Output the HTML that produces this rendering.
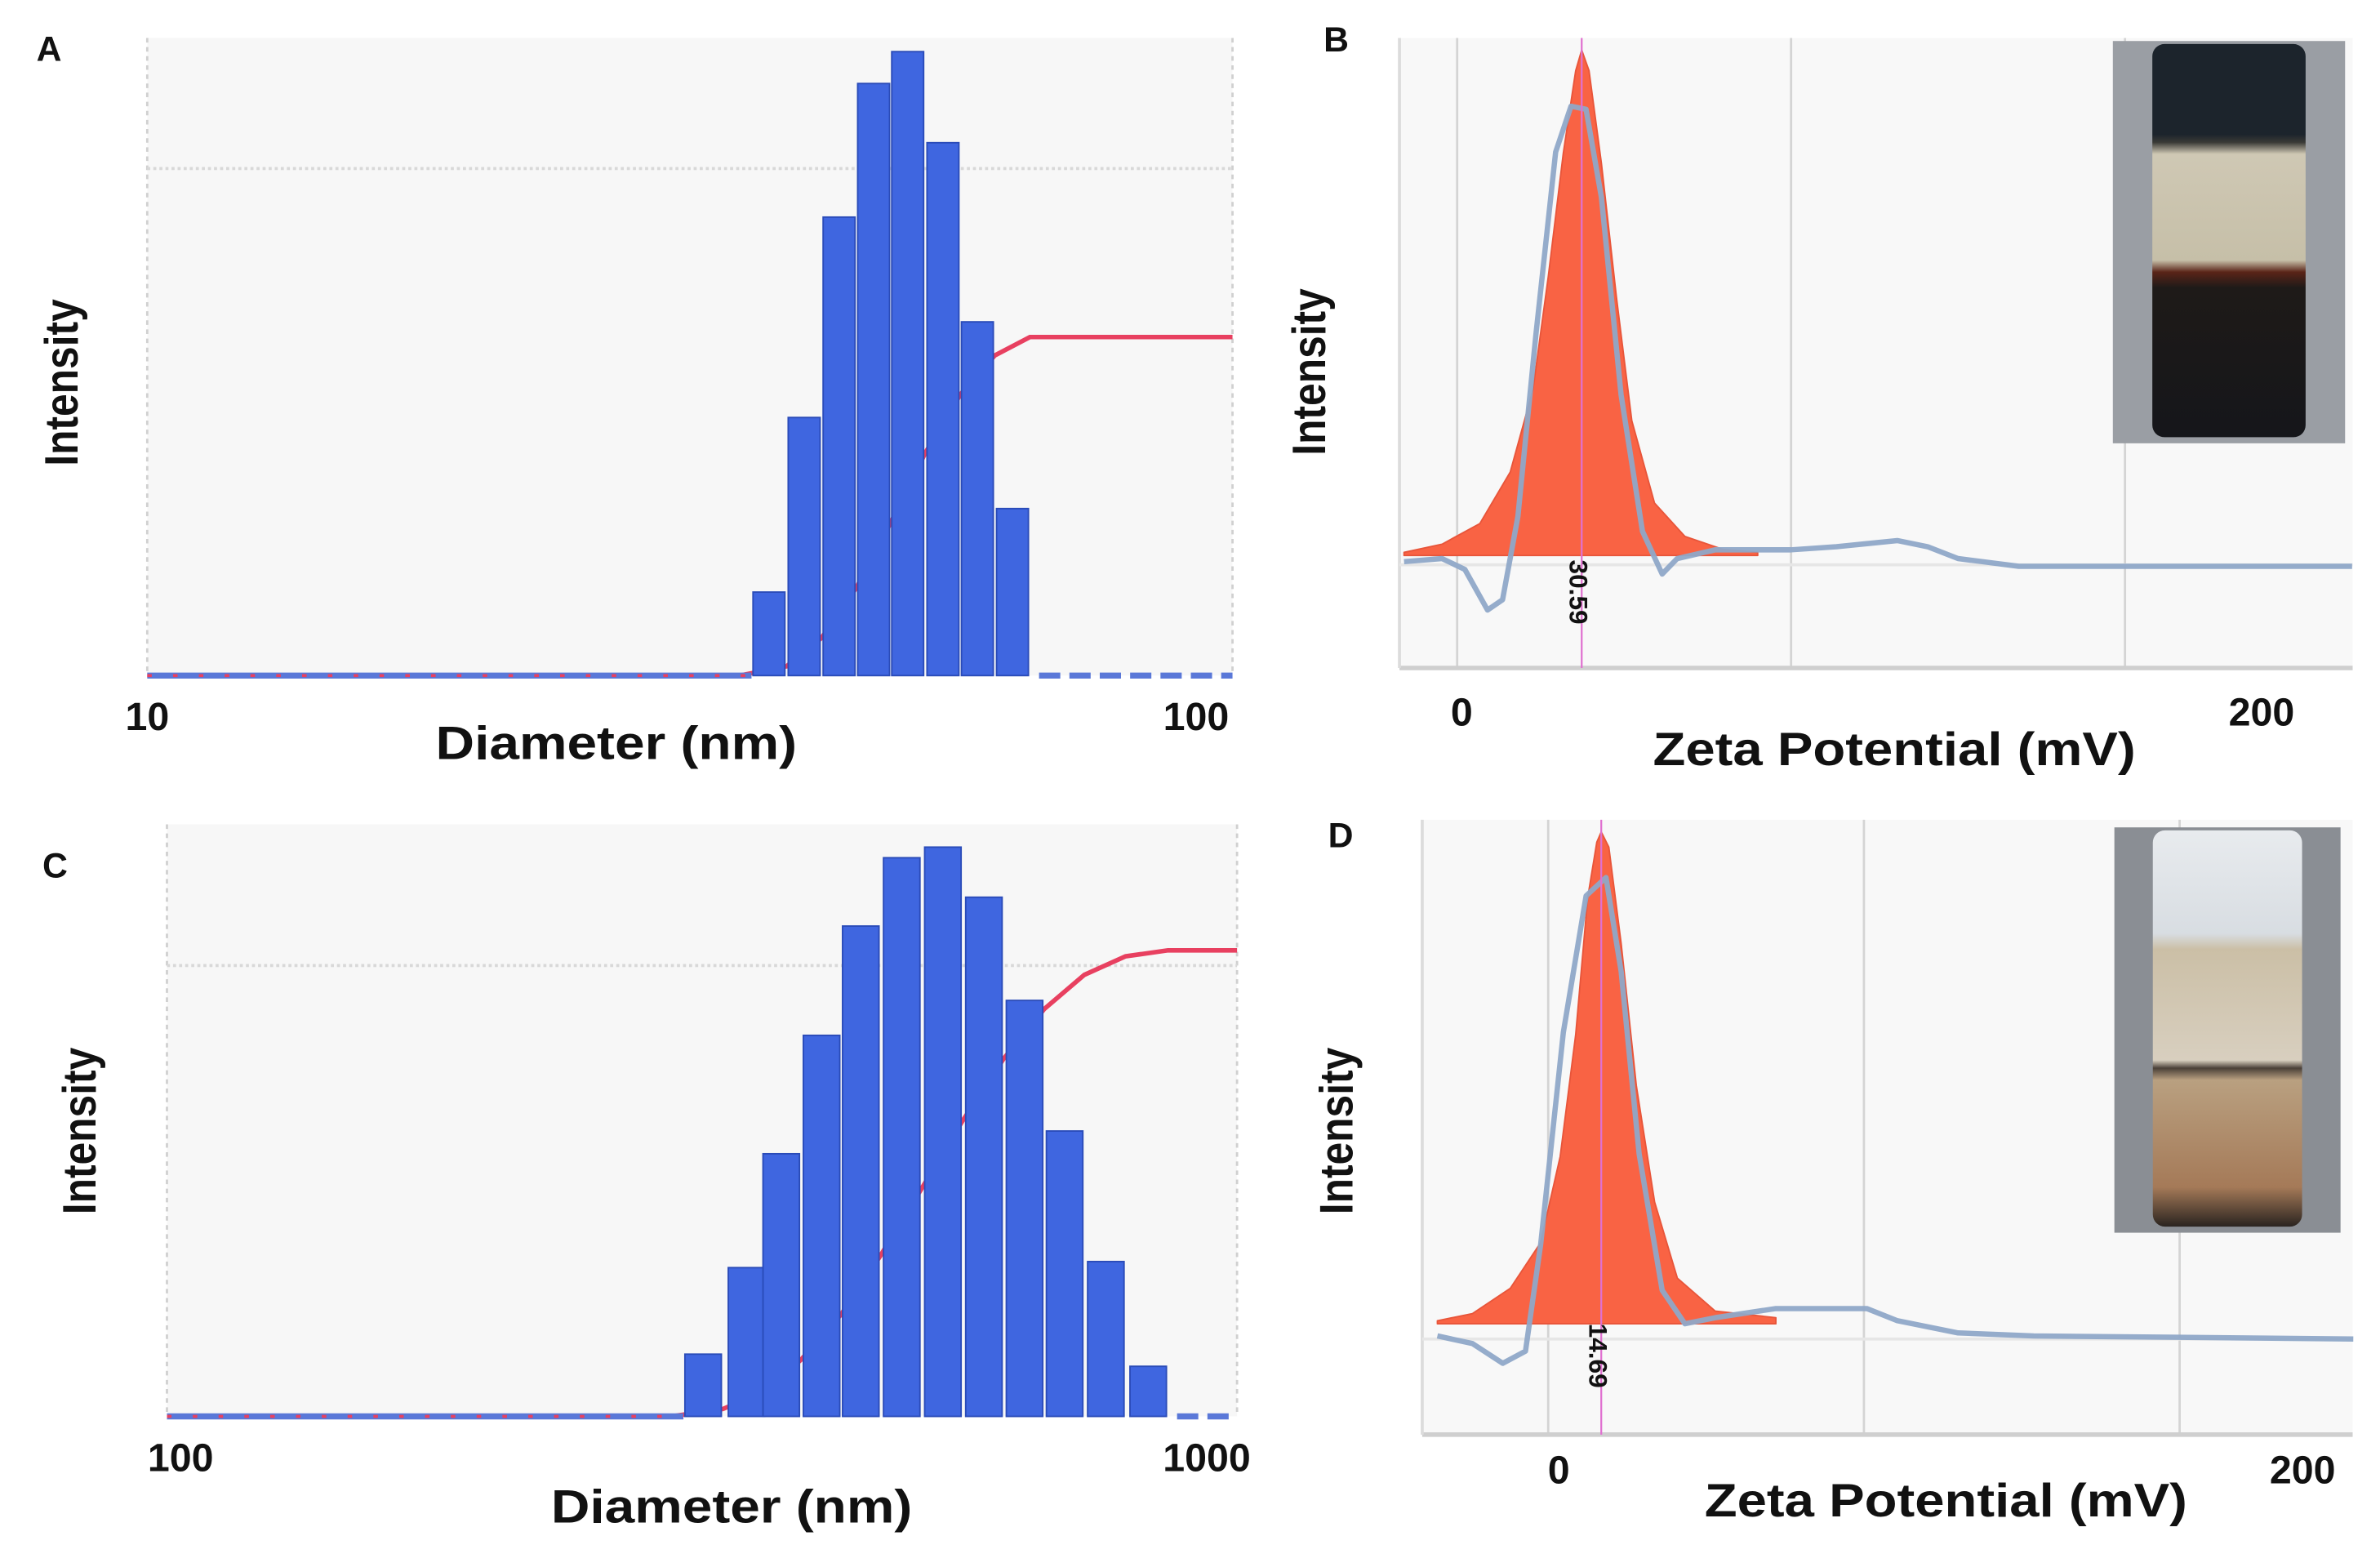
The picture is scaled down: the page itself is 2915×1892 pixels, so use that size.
<!DOCTYPE html>
<html><head><meta charset="utf-8"><style>
html,body{margin:0;padding:0;background:#fff;}
svg{display:block;}
text{font-family:"Liberation Sans",sans-serif;font-weight:bold;fill:#111;}
</style></head><body>
<svg id="fig" width="2915" height="1892" viewBox="0 0 1568 1017.7" xmlns="http://www.w3.org/2000/svg">
<defs>
<linearGradient id="vialB" x1="0" y1="0" x2="0" y2="1">
<stop offset="0" stop-color="#1c242c"/><stop offset="0.23" stop-color="#1c242c"/><stop offset="0.25" stop-color="#3a3a36"/><stop offset="0.28" stop-color="#cfc8b4"/><stop offset="0.55" stop-color="#c6bfa8"/><stop offset="0.58" stop-color="#5a2418"/><stop offset="0.62" stop-color="#1e1a18"/><stop offset="1" stop-color="#15161a"/>
</linearGradient>
<linearGradient id="vialD" x1="0" y1="0" x2="0" y2="1">
<stop offset="0" stop-color="#e8ebee"/><stop offset="0.26" stop-color="#d8dde2"/><stop offset="0.3" stop-color="#cbbfa6"/><stop offset="0.58" stop-color="#d8cfbf"/><stop offset="0.6" stop-color="#4a4038"/><stop offset="0.63" stop-color="#b9a080"/><stop offset="0.9" stop-color="#a57a58"/><stop offset="1" stop-color="#2a2420"/>
</linearGradient>
</defs>
<g id="root"></g>
</svg>
<script>
// ---------- Panel A data (DLS size distribution, nm) ----------
const aDiam = [37.4, 40.3, 43.4, 46.7, 50.2, 54.1, 58.2, 62.7];
const aInt  = [55, 170, 302, 390, 411, 351, 233, 110];
const aTicks = ["10", "100"];
// ---------- Panel C data ----------
const cDiam = [317, 348, 375, 409, 445, 486, 531, 580, 633, 690, 754, 826];
const cInt  = [41, 98, 173, 251, 323, 368, 375, 342, 274, 188, 102, 33];
const cTicks = ["100", "1000"];
// ---------- Panel B data (zeta potential) ----------
const bPeakX = [-15.9, -4.5, 6.8, 15.9, 22.7, 27.3, 31.8, 35.5, 37.3, 39.5, 43.2, 47.7, 52.3, 59.1, 68.2, 79.5, 90];
const bPeakY = [2.4, 4, 8, 18, 34, 56, 80, 96, 100, 96, 78, 52, 28, 12, 5.5, 3, 2.4];
const bRawX = [-15.9, -4.5, 2.3, 9.1, 13.6, 18.2, 23.6, 29.5, 34.1, 38.6, 43.2, 49.1, 55.5, 61.4, 65.9, 77.3, 100, 113.6, 131.8, 140.9, 150, 168.2, 268];
const bRawY = [0.6, 1.2, -0.9, -8.8, -6.8, 9.4, 44.8, 80.2, 89.1, 88.5, 71.4, 33, 6.5, -1.8, 1.2, 2.9, 2.9, 3.5, 4.7, 3.5, 1.2, -0.3, -0.3];
const bTicks = ["0", "200"];
const bLabel = "30.59";
// ---------- Panel D data ----------
const dPeakX = [-35.1, -24, -12, -2.4, 3.8, 8.7, 12.5, 15.4, 16.8, 19.2, 23.1, 27.9, 33.7, 40.9, 52.9, 72.1];
const dPeakY = [3.6, 5, 10, 19, 36, 60, 87, 98, 100, 97, 78, 50, 27, 12, 5.5, 4.2];
const dRawX = [-35.1, -24, -14.4, -7.2, -2.4, 4.8, 12, 18.3, 23.1, 28.8, 36.1, 43.3, 52.9, 72.1, 100.9, 110.6, 129.8, 153.8, 255];
const dRawY = [0.6, -0.9, -4.8, -2.4, 18.6, 60.5, 87.4, 91, 72.5, 36.5, 9.6, 3, 4.2, 6, 6, 3.6, 1.2, 0.6, 0];
const dTicks = ["0", "200"];
const dLabel = "14.69";

const NS = "http://www.w3.org/2000/svg";
const root = document.getElementById('root');
function mk(tag, attrs, parent, txt){
  const e = document.createElementNS(NS, tag);
  for (const k in attrs) e.setAttribute(k, attrs[k]);
  if (txt !== undefined) e.textContent = txt;
  (parent || root).appendChild(e);
  return e;
}

// ---------- size panels ----------
function sizePanel(opt, diam, inten, ticks){
  const g = mk('g', {});
  
  
  const bg = mk('rect', {x:opt.x0, y:opt.top, width:opt.x1-opt.x0, height:opt.base-opt.top, fill:'#f7f7f7'}, g);
  
  
  const xs = d => opt.x0 + (Math.log10(d) - Math.log10(opt.dmin)) * opt.dec;
  const ys = v => opt.base - v * opt.k;
  [opt.x0, opt.x1].forEach(x => {
    const l = mk('line', {x1:x, x2:x, y1:opt.top, y2:opt.base, stroke:'#d0d0d0', 'stroke-width':1.5, 'stroke-dasharray':'3,3'}, g);
    
    
  });
  const gl = mk('line', {x1:opt.x0, x2:opt.x1, y1:opt.grid, y2:opt.grid, stroke:'#d8d8d8', 'stroke-width':2, 'stroke-dasharray':'2,2'}, g);
  
  
  const bw = opt.bw;
  const firstX = xs(diam[0]) - bw/2, lastX = xs(diam[diam.length-1]) + bw/2;
  const total = inten.reduce((a,b)=>a+b, 0);
  let cum = 0, pts = [[firstX-8, opt.base]];
  diam.forEach((d, i) => { cum += inten[i]; pts.push([xs(d)+bw/2, opt.base - cum/total*opt.cumH]); });
  pts.push([opt.x1, opt.base - opt.cumH]);
  const cl = mk('polyline', {points: pts.map(p=>p.join(',')).join(' '), fill:'none', stroke:'#e84060', 'stroke-width':3}, g);
  
  
  const bl = mk('line', {x1:opt.x0, x2:firstX, y1:opt.base, y2:opt.base, stroke:'#5a78d8', 'stroke-width':4}, g);
  
  
  const br = mk('line', {x1:lastX+6, x2:opt.x1, y1:opt.base, y2:opt.base, stroke:'#5a78d8', 'stroke-width':4, 'stroke-dasharray':'14,6'}, g);
  
  
  const rd = mk('line', {x1:opt.x0, x2:firstX, y1:opt.base, y2:opt.base, stroke:'#e84060', 'stroke-width':2, 'stroke-dasharray':'3,14'}, g);
  
  
  diam.forEach((d, i) => {
    const b = mk('rect', {x:xs(d)-bw/2+1, y:ys(inten[i]), width:bw-2, height:inten[i]*opt.k, fill:'#3f66e0', stroke:'#2a4bb8', 'stroke-width':1}, g);
    
    
  });
  const t0 = mk('text', {x:opt.x0+opt.t0dx, y:opt.base+36, 'font-size':26, 'text-anchor':'middle'}, g, ticks[0]);
  
  
  const t1 = mk('text', {x:opt.t1x, y:opt.base+36, 'font-size':26, 'text-anchor':'middle'}, g, ticks[1]);
  
  
  const xt = mk('text', {x:opt.xtx, y:opt.xty, 'font-size':31, 'text-anchor':'middle', textLength:238, lengthAdjust:'spacingAndGlyphs'}, g, 'Diameter (nm)');
  
  
  const yt = mk('text', {x:0, y:0, 'font-size':31, 'text-anchor':'middle', transform:`translate(${opt.ytx},${opt.yty}) rotate(-90)`, textLength:110, lengthAdjust:'spacingAndGlyphs'}, g, 'Intensity');
  
  
  const pl = mk('text', {x:opt.lx, y:opt.ly, 'font-size':23}, g, opt.letter);
  
  
}

sizePanel({name:'panel-a', letter:'A', lx:24, ly:40, x0:97, x1:812, top:25, base:445, grid:111, dmin:10, dec:715, k:1.0, bw:23, cumH:223,
  t0dx:0, t1x:788, xtx:406, xty:500, ytx:51, yty:252}, aDiam, aInt, aTicks);
sizePanel({name:'panel-c', letter:'C', lx:28, ly:578, x0:110, x1:815, top:543, base:933, grid:636, dmin:100, dec:705, k:1.0, bw:26, cumH:307,
  t0dx:9, t1x:795, xtx:482, xty:1003, ytx:63, yty:745}, cDiam, cInt, cTicks);

// ---------- zeta panels ----------
function zetaPanel(opt, px, py, rx, ry, ticks, label){
  const g = mk('g', {});
  
  
  const bg = mk('rect', {x:opt.x0, y:opt.top, width:opt.x1-opt.x0, height:opt.bot-opt.top, fill:'#f8f8f8'}, g);
  
  
  const xs = v => opt.zx + v * opt.kx;
  const ys = v => opt.zy - v * opt.ky;
  [0, 100, 200].forEach(v => {
    const l = mk('line', {x1:xs(v), x2:xs(v), y1:opt.top, y2:opt.bot, stroke:'#d4d4d4', 'stroke-width':1.5}, g);
    
    
  });
  const ax = mk('line', {x1:opt.x0, x2:opt.x1, y1:opt.bot, y2:opt.bot, stroke:'#cfcfcf', 'stroke-width':3}, g);
  
  
  const ay = mk('line', {x1:opt.x0, x2:opt.x0, y1:opt.top, y2:opt.bot, stroke:'#dcdcdc', 'stroke-width':2}, g);
  
  
  const zl = mk('line', {x1:opt.x0, x2:opt.x1, y1:opt.zy, y2:opt.zy, stroke:'#e6e6e6', 'stroke-width':2}, g);
  
  
  const fb = opt.fillBase;
  let d = `M${xs(px[0])},${ys(fb)} ` + px.map((v,i)=>`L${xs(v)},${ys(py[i])}`).join(' ') + ` L${xs(px[px.length-1])},${ys(fb)} Z`;
  const pk = mk('path', {d:d, fill:'#f96344', stroke:'#e8553a', 'stroke-width':1, 'stroke-linejoin':'round'}, g);
  
  
  const raw = mk('polyline', {points: rx.map((v,i)=>xs(v)+','+ys(ry[i])).join(' '), fill:'none', stroke:'#8fa8c8', 'stroke-width':3.5, 'stroke-linejoin':'round', opacity:0.95}, g);
  
  
  let iMax = 0; py.forEach((v,i)=>{ if (v > py[iMax]) iMax = i; });
  const mx = xs(px[iMax]);
  const ml = mk('line', {x1:mx, x2:mx, y1:opt.top, y2:opt.bot, stroke:'#e070d0', 'stroke-width':1.2}, g);
  
  
  const lt = mk('text', {x:0, y:0, 'font-size':17, fill:'#666', 'text-anchor':'middle', transform:`translate(${mx-8},${opt.labY}) rotate(90)`}, g, label);
  
  
  const t0 = mk('text', {x:opt.t0x, y:opt.ty, 'font-size':26, 'text-anchor':'middle'}, g, ticks[0]);
  
  
  const t1 = mk('text', {x:opt.t1x, y:opt.ty, 'font-size':26, 'text-anchor':'middle'}, g, ticks[1]);
  
  
  const xt = mk('text', {x:opt.xtx, y:opt.xty, 'font-size':31, 'text-anchor':'middle', textLength:318, lengthAdjust:'spacingAndGlyphs'}, g, 'Zeta Potential (mV)');
  
  
  const yt = mk('text', {x:0, y:0, 'font-size':31, 'text-anchor':'middle', transform:`translate(${opt.ytx},${opt.yty}) rotate(-90)`, textLength:110, lengthAdjust:'spacingAndGlyphs'}, g, 'Intensity');
  
  
  const pl = mk('text', {x:opt.lx, y:opt.ly, 'font-size':23}, g, opt.letter);
  
  
  const ph = mk('rect', {x:opt.px, y:opt.py, width:opt.pw, height:opt.ph, fill:opt.bgc}, g);
  
  
  const vl = mk('rect', {x:opt.px+opt.pw*0.17, y:opt.py+2, width:opt.pw*0.66, height:opt.ph-6, rx:8, fill:opt.vial}, g);
  
  
}

zetaPanel({name:'panel-b', letter:'B', lx:872, ly:34, x0:922, x1:1550, top:25, bot:440, zx:960, kx:2.2, zy:372, ky:3.39, fillBase:1.8, labY:390,
  t0x:963, t1x:1490, ty:478, xtx:1248, xty:504, ytx:873, yty:245, px:1392, py:27, pw:153, ph:265, bgc:'#9a9ea4', vial:'url(#vialB)'},
  bPeakX, bPeakY, bRawX, bRawY, bTicks, bLabel);
zetaPanel({name:'panel-d', letter:'D', lx:875, ly:558, x0:937, x1:1550, top:540, bot:945, zx:1020, kx:2.08, zy:882, ky:3.34, fillBase:3, labY:893,
  t0x:1027, t1x:1517, ty:977, xtx:1282, xty:999, ytx:891, yty:745, px:1393, py:545, pw:149, ph:267, bgc:'#8a8e94', vial:'url(#vialD)'},
  dPeakX, dPeakY, dRawX, dRawY, dTicks, dLabel);
</script>
</body></html>
